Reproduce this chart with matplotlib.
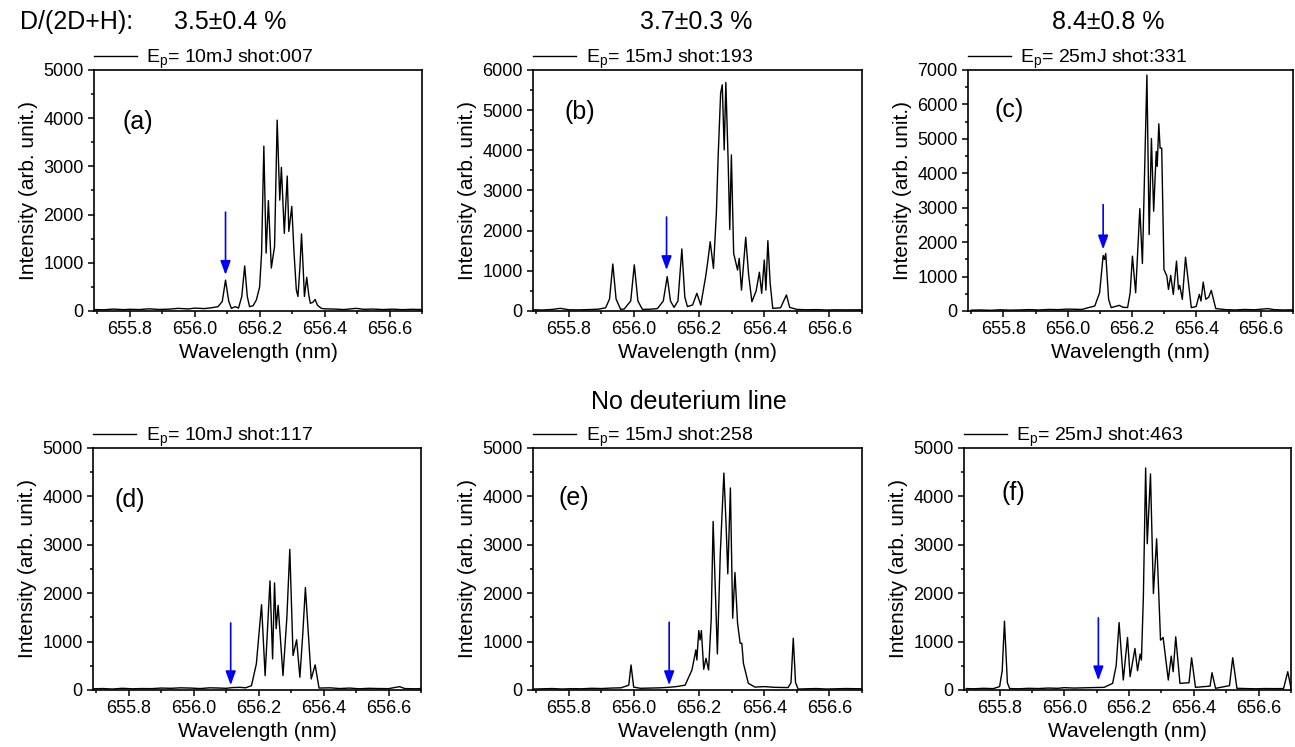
import matplotlib
matplotlib.use("Agg")
import matplotlib.pyplot as plt
from matplotlib.ticker import MultipleLocator

plt.rcParams['font.family'] = ['Liberation Sans', 'DejaVu Sans']
plt.rcParams['mathtext.default'] = 'regular'

# ---- data (wavelength in nm, intensity in arb. unit) ----
wl_a = [655.69, 655.72, 655.75, 655.78, 655.80, 655.83, 655.86, 655.89, 655.92, 655.95,
        655.98, 656.00, 656.03, 656.05, 656.072, 656.085, 656.095, 656.105, 656.113, 656.125,
        656.135, 656.145, 656.154, 656.162, 656.169, 656.18, 656.19, 656.20, 656.206, 656.213,
        656.22, 656.227, 656.236, 656.246, 656.254, 656.262, 656.267, 656.276, 656.285, 656.29,
        656.299, 656.306, 656.313, 656.318, 656.324, 656.329, 656.334, 656.338, 656.345, 656.351,
        656.356, 656.364, 656.371, 656.378, 656.39, 656.40, 656.43, 656.46, 656.497, 656.52,
        656.55, 656.58, 656.61, 656.64, 656.67, 656.70]
int_a = [30, 25, 40, 28, 35, 30, 45, 32, 38, 55,
         42, 60, 50, 65, 90, 200, 640, 200, 55, 90,
         60, 300, 935, 300, 90, 110, 230, 500, 1200, 3420,
         1200, 2290, 890, 1340, 3960, 2300, 2980, 1610, 2800, 1650,
         2170, 1200, 440, 300, 900, 1600, 900, 300, 700, 350,
         160, 180, 240, 120, 55, 45, 40, 30, 55, 35,
         40, 30, 38, 28, 35, 30]

wl_b = [655.69, 655.72, 655.75, 655.774, 655.80, 655.83, 655.86, 655.89, 655.913, 655.925,
        655.935, 655.945, 655.959, 655.97, 655.99, 656.001, 656.012, 656.026, 656.05, 656.072,
        656.09, 656.102, 656.112, 656.123, 656.135, 656.147, 656.156, 656.164, 656.18, 656.193,
        656.205, 656.22, 656.226, 656.234, 656.244, 656.253, 656.258, 656.266, 656.271, 656.277,
        656.282, 656.289, 656.294, 656.299, 656.306, 656.318, 656.323, 656.330, 656.343, 656.352,
        656.362, 656.375, 656.385, 656.392, 656.400, 656.405, 656.411, 656.418, 656.426, 656.45,
        656.468, 656.478, 656.50, 656.53, 656.56, 656.59, 656.62, 656.65, 656.70]
int_b = [30, 25, 40, 66, 30, 28, 35, 45, 80, 300,
         1170, 300, 40, 50, 250, 1150, 250, 40, 45, 60,
         250, 855, 250, 90, 250, 1545, 350, 110, 150, 440,
         150, 855, 1200, 1725, 1060, 2450, 3760, 5420, 5630, 4010,
         5690, 3760, 2030, 3885, 1435, 1020, 1310, 520, 1835, 900,
         230, 500, 965, 440, 1270, 520, 1750, 700, 65, 80,
         400, 90, 40, 30, 35, 25, 30, 28, 30]

wl_c = [655.70, 655.73, 655.76, 655.79, 655.82, 655.85, 655.88, 655.91, 655.94, 655.97,
        656.00, 656.044, 656.064, 656.084, 656.099, 656.110, 656.114, 656.118, 656.127, 656.135,
        656.160, 656.171, 656.186, 656.194, 656.201, 656.211, 656.224, 656.232, 656.246, 656.253,
        656.260, 656.267, 656.275, 656.278, 656.283, 656.287, 656.292, 656.299, 656.308, 656.313,
        656.320, 656.328, 656.338, 656.344, 656.348, 656.356, 656.366, 656.384, 656.399, 656.409,
        656.414, 656.421, 656.429, 656.438, 656.446, 656.460, 656.49, 656.52, 656.55, 656.58,
        656.622, 656.64, 656.67, 656.70]
int_c = [25, 30, 20, 35, 25, 30, 40, 30, 45, 40,
         55, 45, 97, 145, 530, 1612, 1496, 1670, 338, 97,
         164, 110, 100, 530, 1593, 531, 2974, 1380, 6855, 2220,
         5011, 2897, 4634, 4200, 5436, 4730, 4730, 1207, 1014, 628,
         1033, 483, 1448, 628, 743, 338, 1564, 97, 130, 483,
         290, 840, 340, 400, 600, 70, 40, 30, 45, 35,
         70, 40, 30, 35]

wl_d = [655.69, 655.72, 655.75, 655.78, 655.81, 655.84, 655.87, 655.90, 655.93, 655.96,
        655.99, 656.02, 656.05, 656.076, 656.10, 656.12, 656.142, 656.16, 656.178, 656.193,
        656.209, 656.220, 656.235, 656.243, 656.249, 656.254, 656.260, 656.275, 656.287, 656.296,
        656.306, 656.317, 656.327, 656.336, 656.344, 656.362, 656.374, 656.386, 656.42, 656.45,
        656.48, 656.51, 656.54, 656.57, 656.60, 656.634, 656.65, 656.68, 656.70]
int_d = [25, 30, 20, 35, 25, 30, 28, 40, 35, 45,
         40, 30, 45, 41, 35, 50, 55, 45, 90, 540,
         1764, 297, 2255, 643, 2213, 1266, 1750, 297, 1500, 2905,
         712, 1037, 263, 1162, 2116, 228, 519, 40, 45, 30,
         40, 25, 35, 30, 28, 69, 30, 25, 30]

wl_e = [655.69, 655.72, 655.75, 655.78, 655.81, 655.84, 655.87, 655.90, 655.93, 655.96,
        655.984, 655.991, 655.999, 656.02, 656.05, 656.08, 656.106, 656.13, 656.157, 656.178,
        656.190, 656.193, 656.199, 656.203, 656.207, 656.214, 656.221, 656.229, 656.237, 656.243,
        656.256, 656.265, 656.276, 656.283, 656.288, 656.296, 656.303, 656.310, 656.318, 656.326,
        656.331, 656.336, 656.351, 656.371, 656.40, 656.433, 656.473, 656.482, 656.489, 656.496,
        656.504, 656.53, 656.56, 656.59, 656.62, 656.65, 656.70]
int_e = [20, 25, 30, 20, 28, 25, 35, 30, 40, 45,
         100, 517, 60, 35, 40, 45, 55, 70, 100, 414,
         828, 620, 1228, 1034, 1228, 428, 655, 414, 1450, 3483,
         745, 2828, 4483, 3380, 2400, 4173, 1483, 2428, 1379, 966,
         966, 550, 140, 60, 70, 55, 50, 150, 1069, 150,
         20, 25, 30, 20, 25, 30, 25]

wl_f = [655.697, 655.72, 655.75, 655.78, 655.800, 655.808, 655.815, 655.824, 655.831, 655.86,
        655.89, 655.92, 655.95, 655.98, 656.00, 656.03, 656.06, 656.09, 656.123, 656.149,
        656.160, 656.169, 656.182, 656.195, 656.203, 656.218, 656.226, 656.234, 656.238, 656.244,
        656.251, 656.256, 656.266, 656.275, 656.285, 656.297, 656.305, 656.321, 656.330, 656.336,
        656.344, 656.357, 656.385, 656.393, 656.405, 656.45, 656.456, 656.467, 656.51, 656.520,
        656.533, 656.56, 656.59, 656.62, 656.65, 656.677, 656.690, 656.700]
int_f = [30, 25, 35, 28, 70, 400, 1422, 150, 30, 25,
         35, 30, 40, 35, 48, 40, 45, 50, 55, 137,
         500, 1394, 206, 1085, 275, 858, 398, 742, 618, 1923,
         4588, 3022, 4464, 1992, 3125, 1030, 1085, 206, 700, 378,
         1099, 137, 150, 666, 55, 80, 357, 35, 90, 666,
         35, 30, 25, 30, 28, 30, 378, 35]

spectra = [(wl_a, int_a), (wl_b, int_b), (wl_c, int_c),
           (wl_d, int_d), (wl_e, int_e), (wl_f, int_f)]
panel_tags = ['(a)', '(b)', '(c)', '(d)', '(e)', '(f)']
legend_labels = ['E$_p$= 10mJ shot:007', 'E$_p$= 15mJ shot:193', 'E$_p$= 25mJ shot:331',
                 'E$_p$= 10mJ shot:117', 'E$_p$= 15mJ shot:258', 'E$_p$= 25mJ shot:463']
y_max = [5000, 6000, 7000, 5000, 5000, 5000]
# deuterium line marker: wavelength, arrow start, arrow end (intensity)
arrow_x = [656.095, 656.10, 656.11, 656.114, 656.108, 656.105]
arrow_top = [2050, 2340, 3090, 1385, 1400, 1490]
arrow_bottom = [750, 1020, 1790, 100, 100, 200]
ratios = ['3.5\u00b10.4 %', '3.7\u00b10.3 %', '8.4\u00b10.8 %']

# axes boxes in pixels: left, right, top, bottom
W, H = 1295, 747
boxes = [(94, 422, 70, 311), (533, 862, 70, 311), (968, 1293, 70, 311),
         (93, 421, 448, 690), (533, 862, 448, 690), (964, 1291, 448, 690)]
tag_pos = [(0.088, 0.784), (0.097, 0.826), (0.083, 0.834),
           (0.067, 0.785), (0.076, 0.793), (0.116, 0.814)]

fig = plt.figure(figsize=(W / 100, H / 100), dpi=100)

for i in range(6):
    l, r, t, b = boxes[i]
    ax = fig.add_axes([l / W, (H - b) / H, (r - l) / W, (b - t) / H])
    wl, inten = spectra[i]
    ax.plot(wl, inten, color='black', lw=1.0, label=legend_labels[i])
    ax.set_xlim(655.69, 656.70)
    ax.set_ylim(0, y_max[i])
    ax.xaxis.set_major_locator(MultipleLocator(0.2))
    ax.xaxis.set_minor_locator(MultipleLocator(0.1))
    ax.yaxis.set_major_locator(MultipleLocator(1000))
    ax.yaxis.set_minor_locator(MultipleLocator(500))
    ax.xaxis.set_major_formatter(plt.FormatStrFormatter('%.1f'))
    ax.tick_params(which='both', direction='out', top=False, right=False, labelsize=13, width=1.1)
    ax.tick_params(which='major', length=4)
    ax.tick_params(which='minor', length=2.5)
    for sp in ax.spines.values():
        sp.set_linewidth(1.2)
    ax.set_xlabel('Wavelength (nm)', fontsize=15, labelpad=3)
    ax.set_ylabel('Intensity (arb. unit.)', fontsize=15, labelpad=4)
    ax.text(tag_pos[i][0], tag_pos[i][1], panel_tags[i], transform=ax.transAxes,
            fontsize=18, ha='left', va='center')
    ax.annotate('', xy=(arrow_x[i], arrow_bottom[i]), xytext=(arrow_x[i], arrow_top[i]),
                arrowprops=dict(arrowstyle='-|>,head_length=0.6,head_width=0.22',
                                color='blue', lw=1.2, mutation_scale=14,
                                shrinkA=0, shrinkB=0))
    ax.legend(loc='lower left', bbox_to_anchor=(0.0, 0.995), borderaxespad=0.0,
              borderpad=0.0, frameon=False, fontsize=14, handlelength=2.2,
              handletextpad=0.5)

fig.text(20 / W, 1 - 22 / H, 'D/(2D+H):', fontsize=18, ha='left', va='center')
ratio_x = [230, 696, 1108]
for x, s in zip(ratio_x, ratios):
    fig.text(x / W, 1 - 22 / H, s, fontsize=18, ha='center', va='center')
fig.text(689 / W, 1 - 402 / H, 'No deuterium line', fontsize=18, ha='center', va='center')

fig.savefig('out.png', dpi=100)
